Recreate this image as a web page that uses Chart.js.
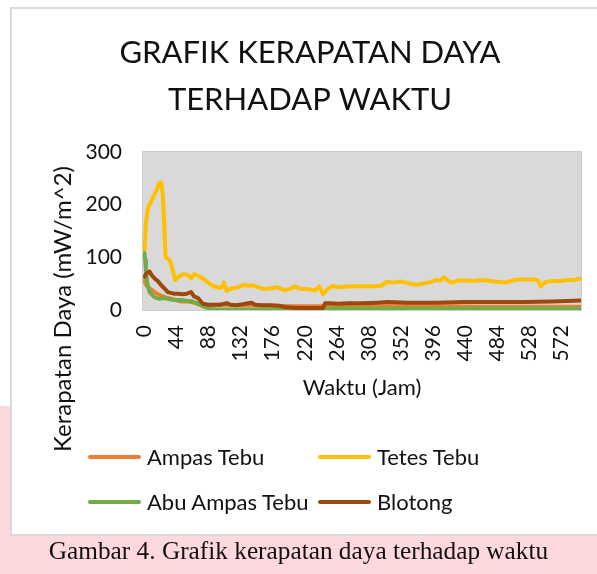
<!DOCTYPE html>
<html>
<head>
<meta charset="utf-8">
<script src="https://cdn.jsdelivr.net/npm/chart.js@4/dist/chart.umd.min.js"></script>
<style>
  html, body { margin: 0; padding: 0; }
  body { width: 597px; height: 574px; overflow: hidden; position: relative;
         background: linear-gradient(to bottom, #ffffff 0px, #ffffff 406px, #fdd8dc 406px, #fdd8dc 574px); }
  #frame { position: absolute; left: 10px; top: 7px; width: 620px; height: 529px;
           border: 2px solid #d9d9d9; background: #ffffff; box-sizing: border-box; }
  #c { position: absolute; left: 0; top: 0; }
  .leg { position: absolute; font-family: Lato, sans-serif; font-size: 22px; color: #111;
         line-height: 26px; white-space: nowrap; }
  .leg .sw { position: absolute; height: 4px; border-radius: 2px; }
  #caption { position: absolute; left: 0; width: 597px; top: 536px; text-align: center;
             font-family: "Liberation Serif", "Times New Roman", serif; font-size: 25.3px; color: #111; }
</style>
</head>
<body>
<div id="frame"></div>
<canvas id="c" width="620" height="574"></canvas>
<div id="legend"></div>
<div id="caption">Gambar 4. Grafik kerapatan daya terhadap waktu</div>
<script>
// ---- data ----
const seriesNames = ['Ampas Tebu', 'Tetes Tebu', 'Abu Ampas Tebu', 'Blotong'];
const seriesColors = ['#ED7D31', '#FFC000', '#70AD47', '#9E480E'];

const xTickLabels = [0, 44, 88, 132, 176, 220, 264, 308, 352, 396, 440, 484, 528, 572];
const yTickLabels = [0, 100, 200, 300];

const jamAmpas = [0, 3, 6, 10, 15, 20, 27, 35, 43, 51, 60, 68, 74, 80, 90, 100, 115, 130, 150, 175, 200, 240, 280, 340, 400, 460, 520, 599];
const ampasTebu = [55, 46, 42, 38, 33, 29, 25, 22, 19, 16, 16, 14, 11, 9, 9, 10, 10, 9, 9, 8, 7, 7, 7, 7, 7, 6, 6, 6];

const jamTetes = [0, 2, 5, 9, 13, 17, 20, 23, 25, 27, 29, 32, 35, 38, 42, 46, 50, 55, 60, 64, 68, 72, 78, 85, 92, 100, 105, 109, 113, 118, 124, 130, 136, 142, 148, 155, 163, 172, 182, 192, 200, 206, 212, 220, 228, 234, 240, 245, 250, 258, 266, 275, 285, 298, 312, 325, 332, 340, 352, 362, 372, 382, 392, 400, 406, 411, 416, 422, 430, 440, 452, 465, 480, 495, 508, 515, 525, 535, 540, 544, 550, 560, 570, 580, 590, 599];
const tetesTebu = [110, 165, 195, 205, 218, 228, 241, 242, 222, 165, 100, 98, 94, 80, 57, 62, 66, 68, 66, 60, 68, 66, 62, 55, 47, 43, 42, 52, 36, 40, 42, 44, 48, 46, 47, 44, 40, 41, 43, 38, 40, 45, 41, 40, 39, 37, 45, 30, 38, 46, 43, 44, 45, 45, 45, 46, 53, 52, 54, 51, 48, 50, 53, 57, 56, 62, 56, 52, 56, 56, 55, 57, 54, 52, 57, 58, 58, 58, 56, 45, 53, 55, 55, 57, 57, 60];

const jamAbu = [0, 1, 2, 4, 7, 11, 14, 21, 25, 29, 36, 43, 51, 58, 64, 72, 80, 86, 92, 100, 150, 200, 245, 250, 300, 400, 500, 599];
const abuAmpasTebu = [108, 95, 75, 50, 34, 28, 24, 21, 23, 22, 20, 19, 19, 17, 17, 13, 7, 4, 2, 1, 1, 1, 1, 3, 3, 3, 3, 3];

const jamBlotong = [0, 3, 7, 10, 14, 19, 23, 28, 32, 40, 46, 52, 58, 64, 68, 74, 80, 88, 96, 104, 113, 118, 126, 135, 142, 147, 152, 160, 172, 185, 195, 210, 225, 240, 245, 248, 255, 266, 280, 300, 320, 334, 360, 400, 440, 480, 520, 560, 599];
const blotong = [63, 70, 73, 66, 60, 54, 47, 40, 34, 31, 31, 30, 31, 34, 26, 22, 12, 10, 10, 10, 13, 10, 9, 11, 13, 14, 10, 9, 9, 8, 5, 4, 4, 4, 4, 13, 13, 12, 13, 13, 14, 15, 14, 14, 15, 15, 15, 16, 18];

const hoursList = [jamAmpas, jamTetes, jamAbu, jamBlotong];
const valuesList = [ampasTebu, tetesTebu, abuAmpasTebu, blotong];

// ---- chart ----
const FONT = 'Lato, "Open Sans", sans-serif';
const TEXT = '#111111';

const plotBg = {
  id: 'plotBg',
  beforeDraw(chart) {
    const {ctx, chartArea: a} = chart;
    ctx.save();
    ctx.fillStyle = '#d9d9d9';
    ctx.fillRect(a.left, a.top, a.right - a.left, a.bottom - a.top);
    ctx.strokeStyle = '#cccccc';
    ctx.lineWidth = 1;
    ctx.strokeRect(a.left - 0.5, a.top - 0.5, a.right - a.left + 1, a.bottom - a.top + 1);
    ctx.restore();
  }
};

const yTitle = {
  id: 'yTitle',
  afterDraw(chart) {
    const ctx = chart.ctx;
    ctx.save();
    ctx.translate(63, 309);
    ctx.rotate(-Math.PI / 2);
    ctx.font = '24px ' + FONT;
    ctx.fillStyle = TEXT;
    ctx.textAlign = 'center';
    ctx.textBaseline = 'middle';
    ctx.fillText('Kerapatan Daya (mW/m^2)', 0, 0);
    ctx.restore();
  }
};

const datasets = seriesNames.map((name, i) => ({
  label: name,
  data: hoursList[i].map((h, k) => ({x: h, y: valuesList[i][k]})),
  borderColor: seriesColors[i],
  backgroundColor: seriesColors[i],
  borderWidth: 4,
  pointRadius: 0,
  tension: 0,
  borderJoinStyle: 'round',
  borderCapStyle: 'round',
  order: seriesNames.length - i
}));

new Chart(document.getElementById('c'), {
  type: 'line',
  data: { datasets },
  plugins: [plotBg, yTitle],
  options: {
    responsive: false,
    animation: false,
    devicePixelRatio: 1,
    layout: { padding: { left: 39, right: 39, top: 0, bottom: 173 } },
    plugins: {
      legend: { display: false },
      tooltip: { enabled: false },
      title: {
        display: true,
        text: ['GRAFIK KERAPATAN DAYA', 'TERHADAP WAKTU'],
        color: TEXT,
        font: { family: FONT, size: 31, weight: 'normal', lineHeight: 1.5 },
        padding: { top: 30, bottom: 29 }
      }
    },
    scales: {
      x: {
        type: 'linear',
        min: -2,
        max: 599,
        afterBuildTicks(scale) { scale.ticks = xTickLabels.map(v => ({ value: v })); },
        afterFit(scale) { scale.height = 91; },
        grid: { display: false, drawTicks: false },
        border: { display: false },
        ticks: {
          autoSkip: false, minRotation: 90, maxRotation: 90, padding: 15,
          color: TEXT, font: { family: FONT, size: 21 }
        },
        title: {
          display: true, text: 'Waktu (Jam)', color: TEXT,
          font: { family: FONT, size: 22 }, padding: { top: 0, bottom: 0 }
        }
      },
      y: {
        min: 0,
        max: 300,
        afterBuildTicks(scale) { scale.ticks = yTickLabels.map(v => ({ value: v })); },
        afterFit(scale) { scale.width = 104; },
        grid: { display: false, drawTicks: false },
        border: { display: false },
        ticks: { padding: 21, color: TEXT, font: { family: FONT, size: 21 } }
      }
    }
  }
});

// ---- legend (2 x 2 grid, as in the reference) ----
const legend = document.getElementById('legend');
const legendCols = [88, 318];
const legendRows = [457, 502];
seriesNames.forEach((name, i) => {
  const col = i % 2, row = Math.floor(i / 2);
  const item = document.createElement('div');
  item.className = 'leg';
  item.style.left = legendCols[col] + 'px';
  item.style.top = (legendRows[row] - 13) + 'px';
  item.style.paddingLeft = '59px';
  const sw = document.createElement('span');
  sw.className = 'sw';
  sw.style.left = '0px';
  sw.style.top = '11px';
  sw.style.width = '53px';
  sw.style.background = seriesColors[i];
  item.appendChild(sw);
  item.appendChild(document.createTextNode(name));
  legend.appendChild(item);
});
</script>
</body>
</html>
